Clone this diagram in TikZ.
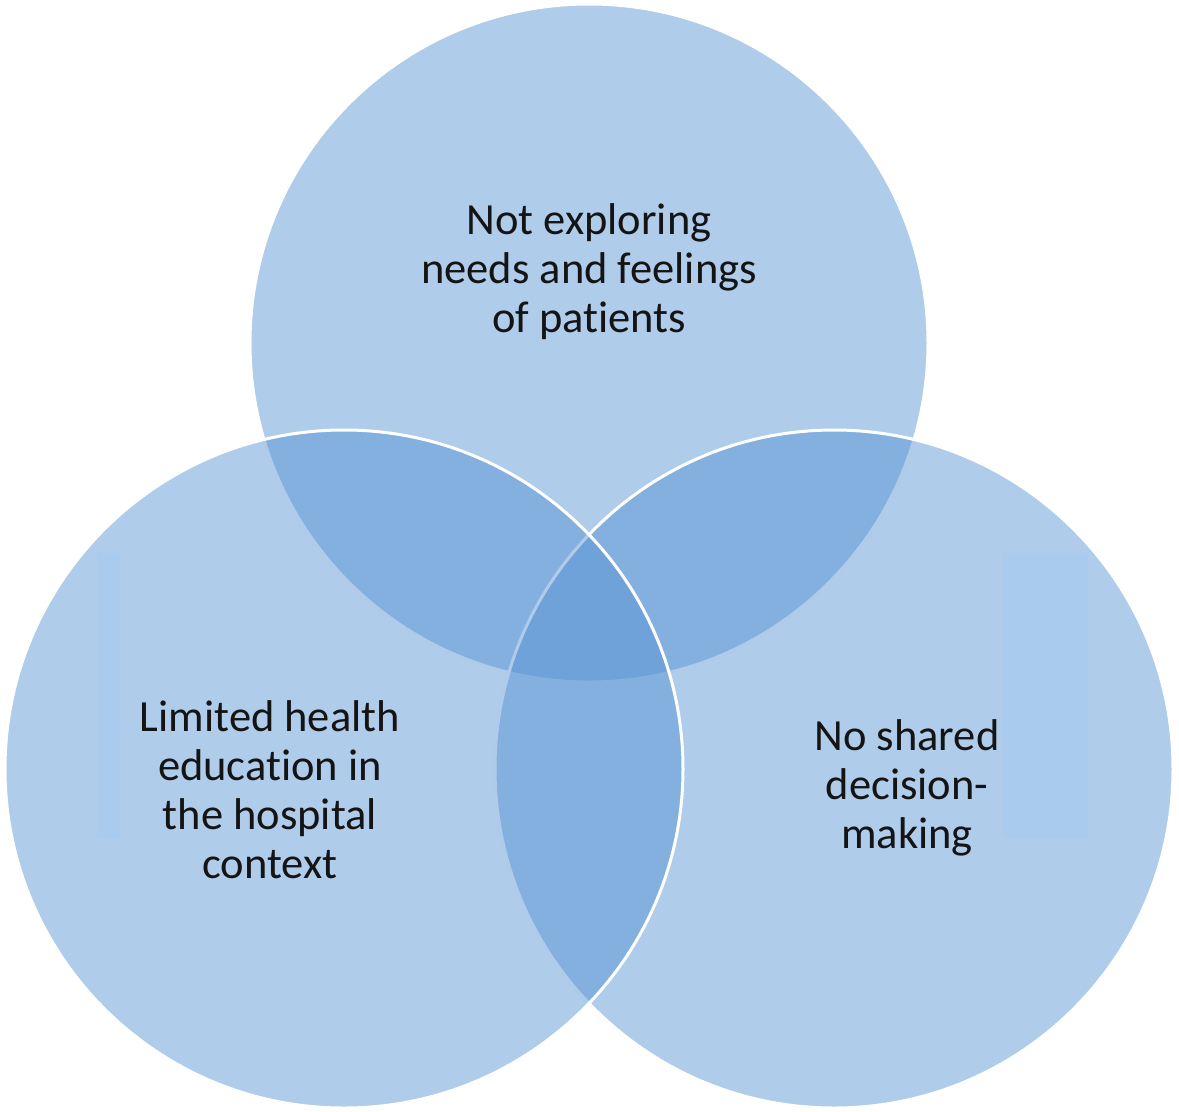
\documentclass[tikz,border=0pt]{standalone}
\usepackage{fontspec}
\setmainfont{Carlito}[RawFeature={-liga}]
\definecolor{vennc}{RGB}{85,146,210}
\definecolor{boxc}{RGB}{169,203,237}
\definecolor{txt}{RGB}{20,20,20}
\tikzset{
  venn/.style={circle, inner sep=0pt, minimum size=678pt, fill=vennc, fill opacity=0.47, draw=white, draw opacity=1, line width=3pt},
  lbl/.style={font=\fontsize{44.5}{49}\selectfont, align=center, text=txt},
  tbox/.style={fill=boxc, draw=none, inner sep=0pt}
}
\begin{document}
\begin{tikzpicture}[x=1pt, y=-1pt]
\useasboundingbox (0,0) rectangle (1179,1112);
\node[venn] (ctop) at (589,343) {};
\node[venn] (cright) at (834,769) {};
\node[venn] (cleft) at (344,769) {};
\fill[boxc] (97,553) rectangle (120,838);
\fill[boxc] (1003,553) rectangle (1088,838);
\node[lbl] (ttop) at (589,272) {Not exploring\\needs and feelings\\of patients};
\node[lbl] (tleft) at (270,790) {Limited health\\education in\\the hospital\\context};
\node[lbl] (tright) at (907,788) {No shared\\decision-\\making};
\end{tikzpicture}
\end{document}
